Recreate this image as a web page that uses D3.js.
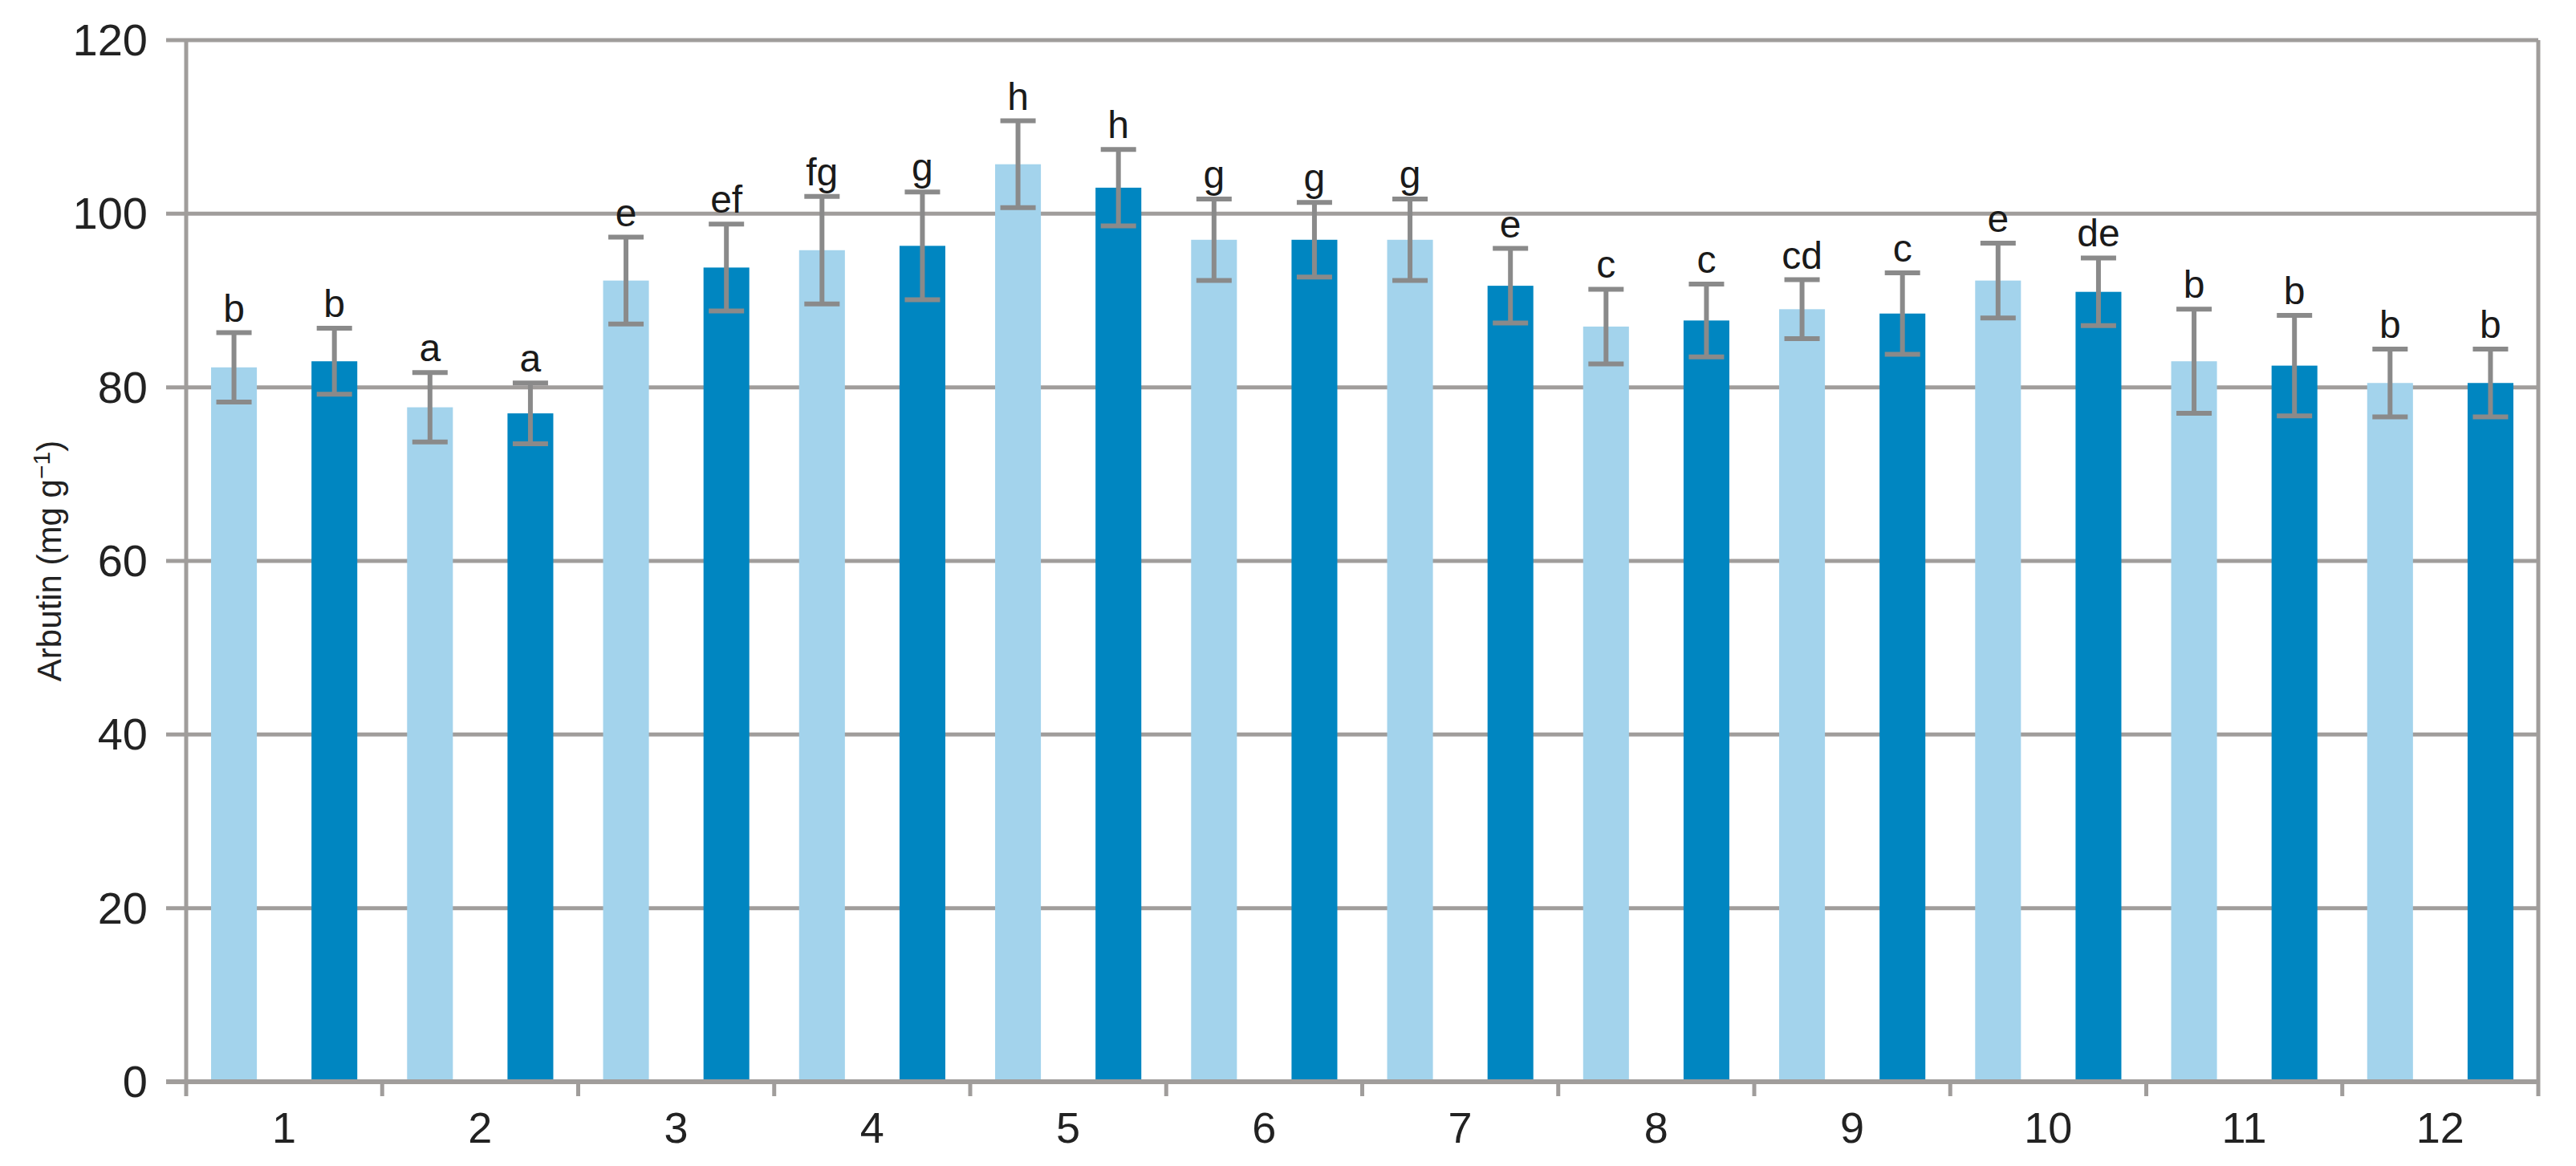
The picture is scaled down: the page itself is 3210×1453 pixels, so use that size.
<!DOCTYPE html>
<html><head><meta charset="utf-8">
<script src="https://cdn.jsdelivr.net/npm/d3@7"></script>
<style>body{margin:0;background:#fff}</style></head>
<body><svg id="c" width="3210" height="1453"></svg>
<script>
const categories = ["1","2","3","4","5","6","7","8","9","10","11","12"];
const lightValues = [82.3,77.7,92.3,95.8,105.7,97,97,87,89,92.3,83,80.5];
const lightErrors = [4,4,5,6.2,5,4.7,4.7,4.3,3.4,4.3,6,3.9];
const darkValues  = [83,77,93.8,96.3,103,97,91.7,87.7,88.5,91,82.5,80.5];
const darkErrors  = [3.8,3.5,5,6.2,4.4,4.3,4.3,4.2,4.7,3.9,5.8,3.9];
const lightLetters = ["b","a","e","fg","h","g","g","c","cd","e","b","b"];
const darkLetters  = ["b","a","ef","g","h","g","e","c","c","de","b","b"];
const yTicks = [0,20,40,60,80,100,120];

const svg = d3.select("#c");
const L=232, R=3163, T=50, B=1348;
const font = "'Liberation Sans', Arial, sans-serif";
const x = d3.scaleBand().domain(categories).range([L,R]).padding(0);
const inner = d3.scaleBand().domain(["light","dark"]).range([0,x.bandwidth()]).paddingInner(0.544).paddingOuter(0.248);
const y = d3.scaleLinear().domain([0,120]).range([B,T]);
const grid = "#a09d9b";

svg.append("g").selectAll("line").data(yTicks.filter(d=>d>0)).join("line")
  .attr("x1",L-25).attr("x2",R).attr("y1",d=>y(d)).attr("y2",d=>y(d))
  .attr("stroke",grid).attr("stroke-width",5);

const series = [
  {key:"light",vals:lightValues,errs:lightErrors,lets:lightLetters,color:"#a3d3ec"},
  {key:"dark",vals:darkValues,errs:darkErrors,lets:darkLetters,color:"#0086c1"}
];
series.forEach(s=>{
  const g = svg.append("g");
  const data = categories.map((c,i)=>({c,v:s.vals[i],e:s.errs[i],l:s.lets[i]}));
  g.selectAll("rect.bar").data(data).join("rect").attr("class","bar")
    .attr("x",d=>x(d.c)+inner(s.key)).attr("width",inner.bandwidth())
    .attr("y",d=>y(d.v)).attr("height",d=>y(0)-y(d.v)).attr("fill",s.color);
  const cx = d=>x(d.c)+inner(s.key)+inner.bandwidth()/2;
  g.selectAll("line.ev").data(data).join("line").attr("class","ev")
    .attr("x1",cx).attr("x2",cx).attr("y1",d=>y(d.v-d.e)).attr("y2",d=>y(d.v+d.e))
    .attr("stroke","#8a8a8a").attr("stroke-width",6);
  [["lo",-1],["hi",1]].forEach(([nm,sg])=>{
    g.selectAll("line.cap"+nm).data(data).join("line").attr("class","cap"+nm)
      .attr("x1",d=>cx(d)-22).attr("x2",d=>cx(d)+22)
      .attr("y1",d=>y(d.v+sg*d.e)).attr("y2",d=>y(d.v+sg*d.e))
      .attr("stroke","#8a8a8a").attr("stroke-width",6);
  });
  g.selectAll("text.lt").data(data).join("text").attr("class","lt")
    .attr("x",cx).attr("y",d=>y(d.v+d.e)-14).attr("text-anchor","middle")
    .attr("font-family",font).attr("font-size",48).attr("fill","#1a1a1a").text(d=>d.l);
});

svg.append("line").attr("x1",L).attr("x2",L).attr("y1",T).attr("y2",B+18).attr("stroke",grid).attr("stroke-width",5);
svg.append("line").attr("x1",R).attr("x2",R).attr("y1",T).attr("y2",B+18).attr("stroke",grid).attr("stroke-width",5);
svg.append("line").attr("x1",L-25).attr("x2",R).attr("y1",B).attr("y2",B).attr("stroke",grid).attr("stroke-width",6);
svg.append("g").selectAll("line").data(categories.slice(1)).join("line")
  .attr("x1",d=>x(d)).attr("x2",d=>x(d)).attr("y1",B).attr("y2",B+18).attr("stroke",grid).attr("stroke-width",5);
svg.append("g").selectAll("text").data(categories).join("text")
  .attr("x",d=>x(d)+x.bandwidth()/2).attr("y",B+76).attr("text-anchor","middle")
  .attr("font-family",font).attr("font-size",54).attr("fill","#222").text(d=>d);
svg.append("g").selectAll("text").data(yTicks).join("text")
  .attr("x",L-48).attr("y",d=>y(d)+19).attr("text-anchor","end")
  .attr("font-family",font).attr("font-size",56).attr("fill","#222").text(d=>d);
const yl = svg.append("text").attr("transform",`translate(76,${(T+B)/2}) rotate(-90)`)
  .attr("text-anchor","middle").attr("font-family",font).attr("font-size",42).attr("fill","#222");
yl.append("tspan").text("Arbutin (mg g");
yl.append("tspan").attr("dy",-14).attr("font-size",30).text("−1");
yl.append("tspan").attr("dy",14).text(")");
</script></body></html>
